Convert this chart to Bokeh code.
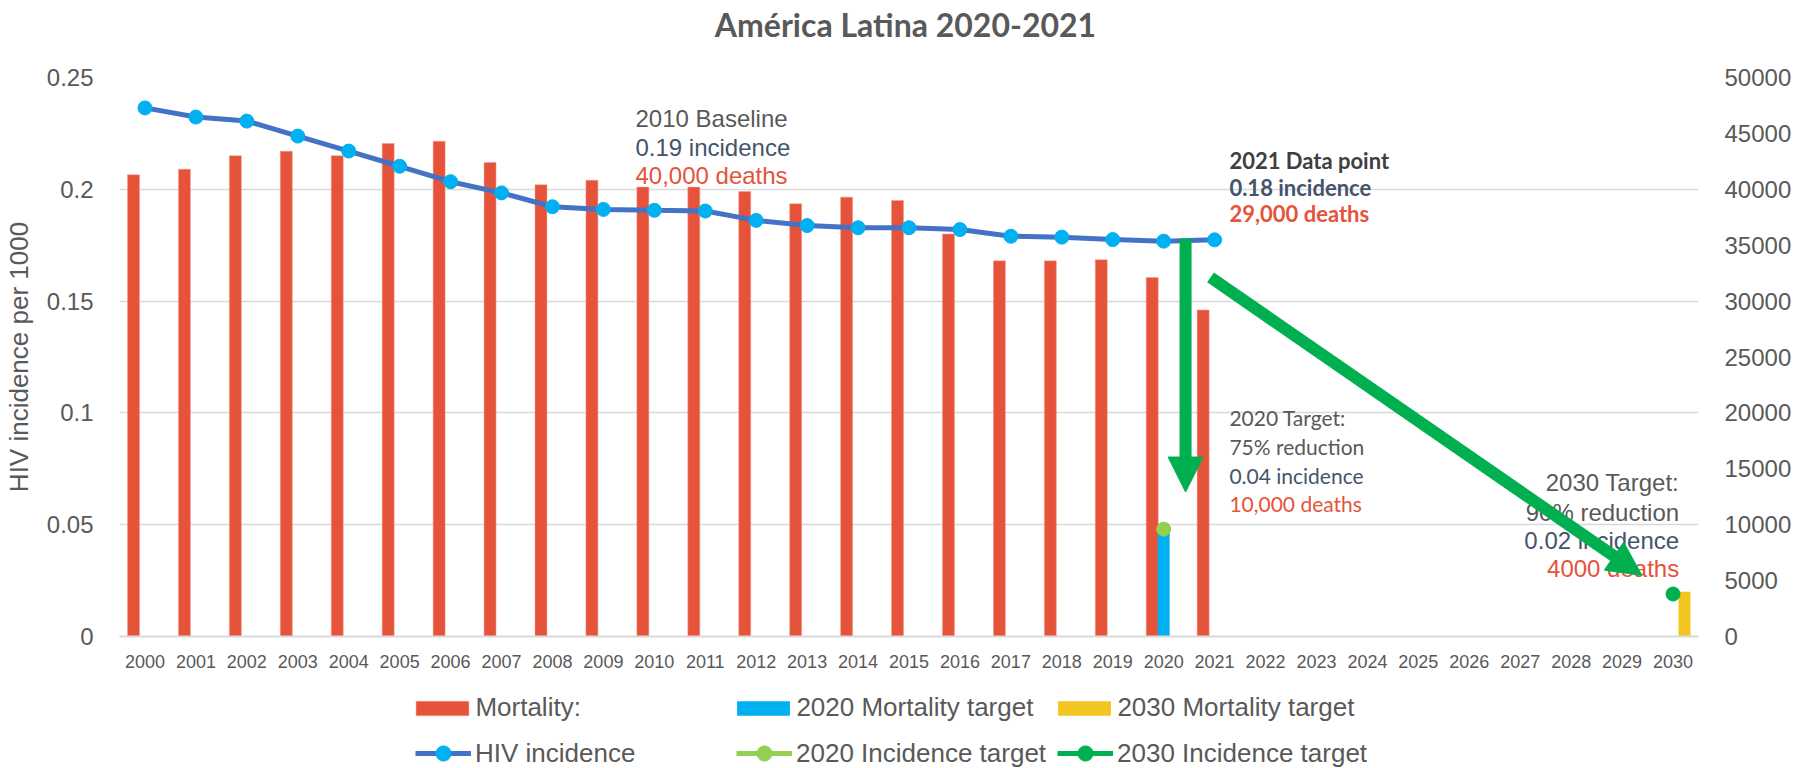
from bokeh.plotting import figure
from bokeh.layouts import column
from bokeh.models import (ColumnDataSource, Range1d, LinearAxis, FixedTicker,
                          CustomJSTickFormatter, NumeralTickFormatter, Legend,
                          LegendItem, Label, Arrow, NormalHead)
from bokeh.transform import dodge
from bokeh.embed import file_html
from bokeh.resources import INLINE

# ---------------- data ----------------
years = list(range(2000, 2022))
mortality = [41300, 41800, 43000, 43400, 43000, 44100, 44300, 42400, 40400, 40800,
             40200, 40200, 39800, 38700, 39300, 39000, 36000, 33600, 33600, 33700,
             32100, 29200]
incidence = [0.2364, 0.2323, 0.2305, 0.2238, 0.2171, 0.2103, 0.2034, 0.1984, 0.1922,
             0.1910, 0.1906, 0.1903, 0.1861, 0.1838, 0.1828, 0.1828, 0.1820, 0.1790,
             0.1786, 0.1775, 0.1768, 0.1774]
target2020_year = [2020]
target2020_mortality = [10000]
target2020_incidence = [0.048]
target2030_year = [2030]
target2030_mortality = [4000]
target2030_incidence = [0.019]
axis_years = list(range(2000, 2031))
year_labels = [str(y) for y in axis_years]
left_ticks = [0, 0.05, 0.1, 0.15, 0.2, 0.25]
right_ticks = list(range(0, 50001, 5000))

# ---------------- style ----------------
GREY = "#595959"
BLUEGREY = "#44546A"
RED = "#E5533A"
GRID = "#D9D9D9"
ARROW_GREEN = "#00B050"

W = 1794
TITLE_H = 50
BL, BR, BT, BB = 116, 96, 27, 40
FH = 559
H = BT + FH + BB
LEGEND_H = 768 - TITLE_H - H
FW = W - BL - BR

# ---------------- title strip ----------------
title_fig = figure(width=W, height=TITLE_H, output_backend="svg", toolbar_location=None,
                   x_range=Range1d(0, 1), y_range=Range1d(0, 1),
                   x_axis_type=None, y_axis_type=None, min_border=0)
title_fig.outline_line_color = None
title_fig.add_layout(Label(x=902 - BL, y=TITLE_H - 23.5, x_units="screen",
                           y_units="screen", text="América Latina 2020-2021",
                           text_font="Lato", text_font_size="32px",
                           text_font_style="bold", text_color=GREY,
                           text_align="center", text_baseline="middle"))

# ---------------- main chart ----------------
p = figure(width=W, height=H, output_backend="svg", toolbar_location=None,
           x_range=Range1d(1999.5, 2030.5), y_range=Range1d(0, 0.25),
           min_border_left=BL, min_border_right=BR, min_border_top=BT,
           min_border_bottom=BB)
p.outline_line_color = None
p.background_fill_color = "white"
p.border_fill_color = "white"

p.extra_y_ranges = {"deaths": Range1d(0, 50000)}

p.xaxis.ticker = FixedTicker(ticks=axis_years)
p.xaxis.major_label_overrides = dict(zip(axis_years, year_labels))
p.xaxis.major_label_text_font = "Liberation Sans"
p.xaxis.major_label_text_font_size = "18px"
p.xaxis.major_label_text_color = GREY
p.xaxis.major_tick_line_color = None
p.xaxis.minor_tick_line_color = None
p.xaxis.axis_line_color = GRID
p.xaxis.axis_line_width = 2
p.xaxis.major_label_standoff = 12

p.yaxis.ticker = FixedTicker(ticks=left_ticks)
p.yaxis.formatter = CustomJSTickFormatter(code="return (Math.round(tick*100)/100).toString()")
p.yaxis.major_label_text_font = "Liberation Sans"
p.yaxis.major_label_text_font_size = "24px"
p.yaxis.major_label_text_color = GREY
p.yaxis.major_tick_line_color = None
p.yaxis.minor_tick_line_color = None
p.yaxis.axis_line_color = None
p.yaxis.major_label_standoff = 20
p.yaxis.axis_label = "HIV incidence per 1000"
p.yaxis.axis_label_text_font = "Liberation Sans"
p.yaxis.axis_label_text_font_size = "26px"
p.yaxis.axis_label_text_font_style = "normal"
p.yaxis.axis_label_text_color = GREY
p.yaxis.axis_label_standoff = 10

raxis = LinearAxis(y_range_name="deaths", ticker=FixedTicker(ticks=right_ticks),
                   formatter=NumeralTickFormatter(format="0"))
raxis.major_label_text_font = "Liberation Sans"
raxis.major_label_text_font_size = "24px"
raxis.major_label_text_color = GREY
raxis.major_tick_line_color = None
raxis.minor_tick_line_color = None
raxis.axis_line_color = None
raxis.major_label_standoff = 20
p.add_layout(raxis, "right")

p.xgrid.grid_line_color = None
p.ygrid.grid_line_color = GRID
p.ygrid.grid_line_width = 1.5
p.ygrid.ticker = FixedTicker(ticks=left_ticks)

src_hist = ColumnDataSource(dict(year=years, mortality=mortality, incidence=incidence))
src_t20 = ColumnDataSource(dict(year=target2020_year, mortality=target2020_mortality,
                                incidence=target2020_incidence))
src_t30 = ColumnDataSource(dict(year=target2030_year, mortality=target2030_mortality,
                                incidence=target2030_incidence))

BW = 0.235
mort_style = dict(fill_color=RED, line_color="#F39A86", line_dash="1 1", line_width=1)
t20_style = dict(fill_color="#00B0F0", line_color=None)
t30_style = dict(fill_color="#F2C520", line_color=None)
inc_line = dict(line_color="#4472C4", line_width=5)
inc_pts = dict(size=14, fill_color="#00B0F0", line_color="#00B0F0")
t20_line = dict(line_color="#92D050", line_width=5)
t20_pts = dict(size=14, fill_color="#92D050", line_color="#92D050")
t30_line = dict(line_color="#00B050", line_width=5)
t30_pts = dict(size=14, fill_color="#00B050", line_color="#00B050")

p.vbar(x=dodge("year", -0.225, range=p.x_range), top="mortality", width=BW,
       source=src_hist, y_range_name="deaths", **mort_style)
p.vbar(x=dodge("year", 0.0, range=p.x_range), top="mortality", width=BW,
       source=src_t20, y_range_name="deaths", **t20_style)
p.vbar(x=dodge("year", 0.225, range=p.x_range), top="mortality", width=BW,
       source=src_t30, y_range_name="deaths", **t30_style)
p.line(x="year", y="incidence", source=src_hist, **inc_line)
p.scatter(x="year", y="incidence", source=src_hist, **inc_pts)
p.scatter(x="year", y="incidence", source=src_t20, **t20_pts)
p.scatter(x="year", y="incidence", source=src_t30, **t30_pts)

def add_text(x, y, text, color, font="Liberation Sans", size="24px", style="normal",
             align="left"):
    p.add_layout(Label(x=x, y=y, text=text, text_color=color, text_font=font,
                       text_font_size=size, text_font_style=style,
                       text_align=align, text_baseline="middle"))

add_text(2009.63, 0.2317, "2010 Baseline", GREY)
add_text(2009.63, 0.2187, "0.19 incidence", BLUEGREY)
add_text(2009.63, 0.2062, "40,000 deaths", RED)

add_text(2021.29, 0.2129, "2021 Data point", "#404040", font="Lato", size="22px", style="bold")
add_text(2021.29, 0.2010, "0.18 incidence", BLUEGREY, font="Lato", size="22px", style="bold")
add_text(2021.29, 0.1892, "29,000 deaths", RED, font="Lato", size="22px", style="bold")

add_text(2021.29, 0.0979, "2020 Target:", GREY, font="Lato", size="21px")
add_text(2021.29, 0.0850, "75% reduction", GREY, font="Lato", size="21px")
add_text(2021.29, 0.0720, "0.04 incidence", BLUEGREY, font="Lato", size="21px")
add_text(2021.29, 0.0595, "10,000 deaths", RED, font="Lato", size="21px")

add_text(2030.12, 0.0689, "2030 Target:", GREY, align="right")
add_text(2030.12, 0.0555, "90% reduction", GREY, align="right")
add_text(2030.12, 0.0429, "0.02 incidence", BLUEGREY, align="right")
add_text(2030.12, 0.0304, "4000 deaths", RED, align="right")

PX = FW / 31.0
PY = FH / 0.25

def green_arrow(x0, y0, x1, y1, head, width):
    dx = (x1 - x0) * PX
    dy = (y1 - y0) * PY
    L = (dx * dx + dy * dy) ** 0.5
    ux, uy = dx / L, dy / L
    bx = x1 - (head - 2) * ux / PX
    by = y1 - (head - 2) * uy / PY
    hx = x1 - head * ux / PX
    hy = y1 - head * uy / PY
    p.add_layout(Arrow(end=None, x_start=x0, y_start=y0, x_end=bx, y_end=by,
                       line_color=ARROW_GREEN, line_width=width, line_cap="butt"))
    p.add_layout(Arrow(end=NormalHead(size=head, fill_color=ARROW_GREEN,
                                      line_color=ARROW_GREEN, line_width=1),
                       x_start=hx, y_start=hy, x_end=x1, y_end=y1,
                       line_alpha=0, line_width=1))

green_arrow(2020.43, 0.178, 2020.43, 0.0646, 35, 12)
green_arrow(2020.92, 0.1606, 2029.39, 0.0273, 34, 12)

# ---------------- legend strip ----------------
lf = figure(width=W, height=LEGEND_H, output_backend="svg", toolbar_location=None,
            x_range=Range1d(0, 1), y_range=Range1d(0, 1),
            x_axis_type=None, y_axis_type=None, min_border=0)
lf.outline_line_color = None
# the same series, hidden here; only their legend swatches are shown
r_mort = lf.vbar(x="year", top="mortality", width=BW, source=src_hist, **mort_style)
r_t20 = lf.vbar(x="year", top="mortality", width=BW, source=src_t20, **t20_style)
r_t30 = lf.vbar(x="year", top="mortality", width=BW, source=src_t30, **t30_style)
r_inc_l = lf.line(x="year", y="incidence", source=src_hist, **inc_line)
r_inc_p = lf.scatter(x="year", y="incidence", source=src_hist, **inc_pts)
r_t20_l = lf.line(x="year", y="incidence", source=src_t20, **t20_line)
r_t20_p = lf.scatter(x="year", y="incidence", source=src_t20, **t20_pts)
r_t30_l = lf.line(x="year", y="incidence", source=src_t30, **t30_line)
r_t30_p = lf.scatter(x="year", y="incidence", source=src_t30, **t30_pts)
for r in [r_mort, r_t20, r_t30, r_inc_l, r_inc_p, r_t20_l, r_t20_p, r_t30_l, r_t30_p]:
    r.visible = False

def make_legend(items, loc, gw, gh, standoff, lw):
    lg = Legend(items=items, orientation="horizontal", location=loc)
    lg.label_text_font = "Liberation Sans"
    lg.label_text_font_size = "26px"
    lg.label_text_color = GREY
    lg.label_height = 30
    lg.glyph_width = gw
    lg.glyph_height = gh
    lg.label_standoff = standoff
    lg.label_width = lw
    lg.spacing = 0
    lg.padding = 0
    lg.margin = 0
    lg.border_line_alpha = 0
    lg.background_fill_alpha = 0
    lg.inactive_fill_alpha = 0
    lf.add_layout(lg, "center")

make_legend([
    LegendItem(label="Mortality:", renderers=[r_mort]),
    LegendItem(label="2020 Mortality target", renderers=[r_t20]),
    LegendItem(label="2030 Mortality target", renderers=[r_t30]),
], (406.4 - BL, LEGEND_H - 32 - 15), 66, 18, 0, 255)

make_legend([
    LegendItem(label="HIV incidence", renderers=[r_inc_l, r_inc_p]),
    LegendItem(label="2020 Incidence target", renderers=[r_t20_l, r_t20_p]),
    LegendItem(label="2030 Incidence target", renderers=[r_t30_l, r_t30_p]),
], (412 - BL, LEGEND_H - 77 - 19), 56, 38, 4, 261)

layout = column(title_fig, p, lf, spacing=0)
open("out.html", "w").write(file_html(layout, INLINE))
